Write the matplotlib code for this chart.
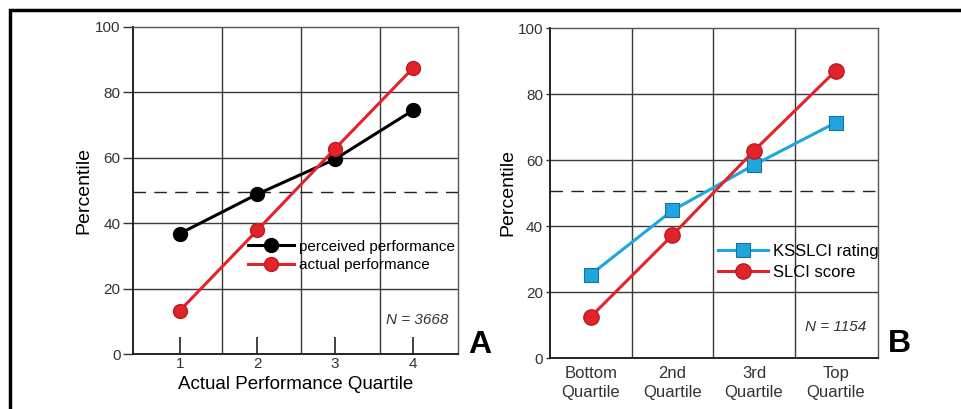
import matplotlib
matplotlib.use("Agg")
import matplotlib.pyplot as plt
from matplotlib.patches import Rectangle

# panel A data
quartiles_a = [1, 2, 3, 4]
perceived = [36.8, 48.9, 59.6, 74.5]
actual = [13.2, 37.9, 62.8, 87.4]
n_label_a = "N = 3668"

# panel B data
quartile_labels_b = ["Bottom\nQuartile", "2nd\nQuartile", "3rd\nQuartile", "Top\nQuartile"]
kss_rating = [25.3, 44.7, 58.5, 71.3]
slci_score = [12.5, 37.2, 62.8, 87.0]
n_label_b = "N = 1154"

RED = "#e3232a"
RED_EDGE = "#b81c22"
BLUE = "#1ea7dc"
BLUE_EDGE = "#1a6f9e"
GRID = "#3a3a3a"

plt.rcParams["font.family"] = ["Liberation Sans", "DejaVu Sans"]

W, H = 961, 409
fig = plt.figure(figsize=(W / 100, H / 100), dpi=100)


def px_axes(left, top, right, bottom):
    return fig.add_axes([left / W, 1 - bottom / H, (right - left) / W, (bottom - top) / H])


def base_axes(ax, xlim, vgrid, ticklen, labelpad):
    ax.set_xlim(*xlim)
    ax.set_ylim(0, 100)
    ax.set_yticks([0, 20, 40, 60, 80, 100])
    for y in [20, 40, 60, 80]:
        ax.axhline(y, color=GRID, lw=1.0, zorder=1)
    for x in vgrid:
        ax.axvline(x, color=GRID, lw=1.0, zorder=1)
    for side in ["top", "right"]:
        ax.spines[side].set_color("#555555")
        ax.spines[side].set_linewidth(1.0)
    for side in ["left", "bottom"]:
        ax.spines[side].set_color("#222222")
        ax.spines[side].set_linewidth(1.4)
    ax.tick_params(axis="y", direction="out", length=ticklen, width=1.0, color="#333333",
                   labelsize=11, labelcolor="#333333", pad=2)
    ax.set_ylabel("Percentile", fontsize=14, labelpad=labelpad)


# ---- panel A ----
ax = px_axes(133, 27, 458, 354)
base_axes(ax, (0.4, 4.58), [1.55, 2.56, 3.58], 7, 2)
ax.axhline(49.5, color="#222222", lw=1.0, dashes=(9, 6), zorder=2)
ax.plot(quartiles_a, perceived, color="black", lw=2.2, marker="o", ms=10,
        mfc="black", mec="black", zorder=3, label="perceived performance")
ax.plot(quartiles_a, actual, color=RED, lw=2.2, marker="o", ms=10,
        mfc=RED, mec=RED_EDGE, zorder=4, label="actual performance")
ax.set_xticks(quartiles_a)
ax.tick_params(axis="x", direction="in", length=12, width=1.2, color="#222222",
               labelsize=11, labelcolor="#333333", pad=2)
ax.set_xlabel("Actual Performance Quartile", fontsize=13.5, labelpad=4)
ax.legend(loc="upper left", bbox_to_anchor=(0.355, 0.35), frameon=False, fontsize=11,
          handlelength=3.0, handletextpad=0.3, labelspacing=0.3, borderaxespad=0,
          borderpad=0)
ax.text(0.97, 0.104, n_label_a, transform=ax.transAxes, ha="right", va="center",
        fontsize=11, style="italic", color="#333333")
fig.text(480 / W, 1 - 345 / H, "A", fontsize=23, fontweight="bold", ha="center", va="center")

# ---- panel B ----
ax = px_axes(550, 28, 878, 358)
xb = list(range(len(quartile_labels_b)))
base_axes(ax, (-0.5, 3.52), [0.5, 1.5, 2.5], 3, 1)
ax.axhline(50.5, color="#222222", lw=1.0, dashes=(9, 6), zorder=2)
ax.plot(xb, kss_rating, color=BLUE, lw=2.2, marker="s", ms=10,
        mfc=BLUE, mec=BLUE_EDGE, mew=0.8, zorder=3, label="KSSLCI rating")
ax.plot(xb, slci_score, color=RED, lw=2.2, marker="o", ms=11,
        mfc=RED, mec=RED_EDGE, zorder=4, label="SLCI score")
ax.set_xticks(xb)
ax.set_xticklabels(quartile_labels_b, linespacing=1.3)
ax.tick_params(axis="x", length=0, labelsize=12, labelcolor="#333333", pad=6)
ax.legend(loc="upper left", bbox_to_anchor=(0.512, 0.345), frameon=False, fontsize=12,
          handlelength=3.0, handletextpad=0.3, labelspacing=0.35, borderaxespad=0,
          borderpad=0)
ax.text(0.965, 0.095, n_label_b, transform=ax.transAxes, ha="right", va="center",
        fontsize=11, style="italic", color="#333333")
fig.text(899 / W, 1 - 344 / H, "B", fontsize=23, fontweight="bold", ha="center", va="center")

# outer frame
fig.add_artist(Rectangle((10 / W, -0.05), 1.1, 1.05 - 10 / H, transform=fig.transFigure,
                         fill=False, lw=2.5, ec="black"))

fig.savefig("out.png", dpi=100)
